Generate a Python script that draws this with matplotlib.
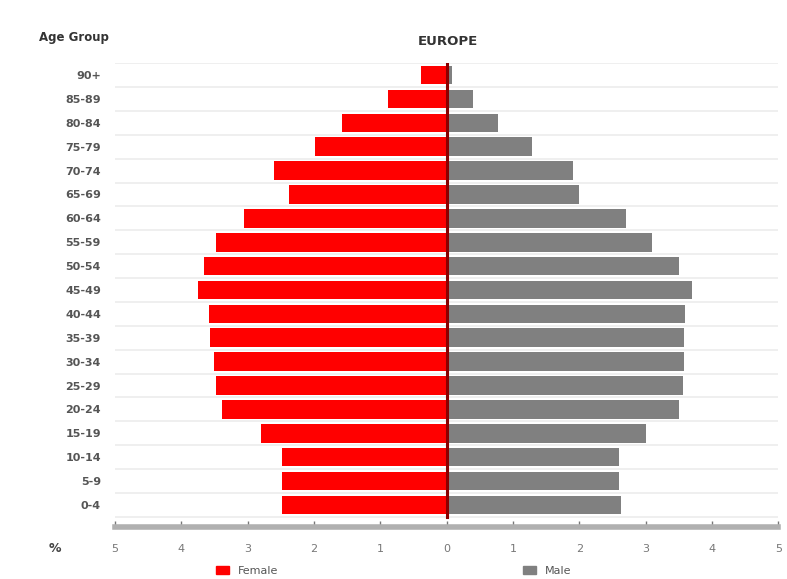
import numpy as np
import matplotlib.pyplot as plt
from matplotlib.patches import Patch

# age groups, bottom to top
age_groups = ["0-4", "5-9", "10-14", "15-19", "20-24", "25-29", "30-34",
              "35-39", "40-44", "45-49", "50-54", "55-59", "60-64", "65-69",
              "70-74", "75-79", "80-84", "85-89", "90+"]
# share of total population (%)
female = [2.48, 2.48, 2.48, 2.8, 3.39, 3.48, 3.5, 3.56, 3.58, 3.75, 3.65,
          3.48, 3.06, 2.38, 2.6, 1.98, 1.58, 0.88, 0.38]
male = [2.63, 2.6, 2.6, 3.0, 3.5, 3.57, 3.58, 3.58, 3.6, 3.7, 3.5,
        3.1, 2.7, 2.0, 1.9, 1.29, 0.78, 0.4, 0.08]
tick_vals = [-5, -4, -3, -2, -1, 0, 1, 2, 3, 4, 5]

fig = plt.figure(figsize=(7.87, 5.79), dpi=100)
ax = fig.add_axes([0.146, 0.09, 0.843, 0.801])

y = np.arange(len(age_groups))
ax.barh(y, -np.array(female), height=0.78, color="#ff0000", zorder=3)
ax.barh(y, male, height=0.78, color="#808080", zorder=3)

# faint row separators
for g in np.arange(-0.5, len(age_groups), 1.0):
    ax.axhline(g, color="#ececec", lw=1.2, zorder=1)

# centre line
ax.plot([0, 0], [-0.5, len(age_groups) - 0.5], color="#8b0000", lw=2.2, zorder=4)

ax.set_xlim(-5, 5)
ax.set_ylim(-0.92, 18.5)
ax.set_yticks(y)
ax.set_yticklabels(age_groups, fontsize=8, color="#555555", fontweight="bold")
ax.set_xticks(tick_vals)
ax.set_xticklabels([str(abs(v)) for v in tick_vals], fontsize=8, color="#777777")
ax.tick_params(axis="y", length=0, pad=10)
ax.tick_params(axis="x", length=4, width=1, color="#777777", pad=12, direction="in")

for s in ["top", "right", "left"]:
    ax.spines[s].set_visible(False)
ax.spines["bottom"].set_color("#b0b0b0")
ax.spines["bottom"].set_linewidth(4)

fig.text(0.07, 0.052, "%", fontsize=9, fontweight="bold", color="#444444",
         ha="center", va="center")
fig.text(0.05, 0.935, "Age Group", fontsize=8.5, fontweight="bold", color="#333333",
         ha="left", va="center")
fig.text(0.569, 0.928, "EUROPE", fontsize=9.5, fontweight="bold", color="#333333",
         ha="center", va="center")

handles = [Patch(color="#ff0000"), Patch(color="#808080")]
fig.legend(handles, ["Female", "Male"], loc="lower center", ncol=2,
           bbox_to_anchor=(0.5, -0.012), frameon=False, fontsize=8,
           columnspacing=22, handlelength=1.2, labelcolor="#555555")

fig.savefig("out.png", dpi=100)
